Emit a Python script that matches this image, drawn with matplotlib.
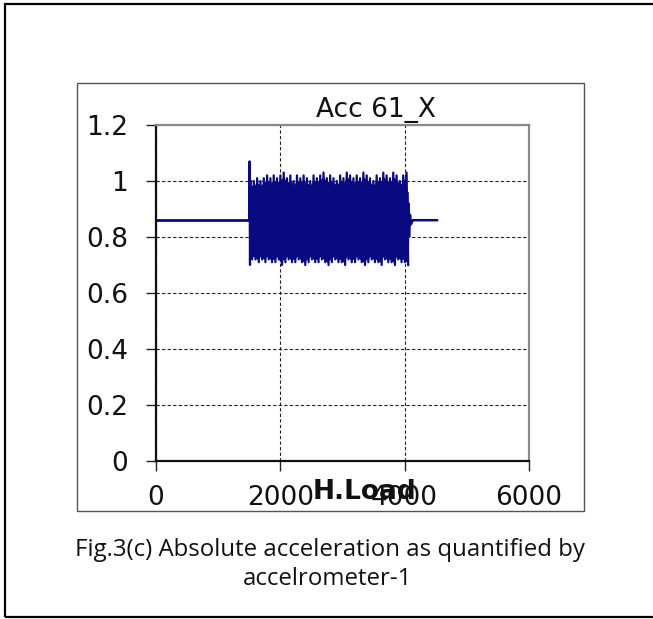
import numpy as np
import matplotlib
matplotlib.use("Agg")
import matplotlib.pyplot as plt
from matplotlib.patches import Rectangle

# ---- data ----
baseline_x = [0, 1500]
baseline_y = [0.86, 0.86]
spike_x = [1500, 1505, 1512, 1520]
spike_y = [0.86, 1.07, 0.70, 1.00]
upper = [1.00, 1.00, 1.01, 1.00, 1.01, 1.02, 1.01, 1.02, 1.01, 1.02, 1.03, 1.01,
         1.02, 1.00, 1.02, 1.01, 1.02, 1.01, 1.00, 1.02, 1.01, 1.02, 1.03, 1.01,
         1.02, 1.01, 1.00, 1.02, 1.01, 1.03, 1.02, 1.01, 1.02, 1.01, 1.03, 1.02,
         1.01, 1.00, 1.02, 1.01, 1.03, 1.02, 1.01, 1.03, 1.02, 1.00, 1.02, 1.03]
lower = [0.72, 0.72, 0.71, 0.72, 0.71, 0.72, 0.71, 0.71, 0.72, 0.70, 0.71, 0.72,
         0.71, 0.71, 0.72, 0.71, 0.70, 0.71, 0.72, 0.71, 0.71, 0.72, 0.71, 0.70,
         0.71, 0.72, 0.71, 0.71, 0.70, 0.72, 0.71, 0.71, 0.72, 0.71, 0.70, 0.71,
         0.72, 0.71, 0.71, 0.70, 0.72, 0.71, 0.71, 0.70, 0.72, 0.71, 0.71, 0.70]
osc_start, osc_end = 1520, 4030
decay_x = [4030, 4040, 4050, 4060, 4070, 4085, 4100, 4130, 4520]
decay_y = [0.72, 0.96, 0.76, 0.92, 0.80, 0.88, 0.845, 0.86, 0.86]

xticks = [0, 2000, 4000, 6000]
yticks = [0, 0.2, 0.4, 0.6, 0.8, 1.0, 1.2]
ytick_labels = ["0", "0.2", "0.4", "0.6", "0.8", "1", "1.2"]

W, H = 653, 619
fig = plt.figure(figsize=(W / 100, H / 100), dpi=100)

# outer frame and inner chart frame
fig.patches.append(Rectangle((5 / W, 1 - 617 / H), (660 - 5) / W, (617 - 4) / H,
                             transform=fig.transFigure, fill=False, ec="black", lw=1.6))
fig.patches.append(Rectangle((77 / W, 1 - 511 / H), (584 - 77) / W, (511 - 83) / H,
                             transform=fig.transFigure, fill=False, ec="#555555", lw=1.0))

ax = fig.add_axes([156 / W, 1 - 461 / H, (529 - 156) / W, (461 - 125) / H])

line_color = "#0a0a80"
n = len(upper)
env_x = np.linspace(osc_start, osc_end, n)
# zigzag between read peaks and troughs
zx = np.empty(2 * n)
zy = np.empty(2 * n)
zx[0::2] = env_x
zx[1::2] = env_x + (env_x[1] - env_x[0]) / 2
zy[0::2] = upper
zy[1::2] = lower
ax.fill_between(env_x, np.array(lower) + 0.01, np.array(upper) - 0.015,
                color=line_color, lw=0)
ax.plot(baseline_x, baseline_y, color=line_color, lw=2.0)
ax.plot(spike_x, spike_y, color=line_color, lw=1.6)
ax.plot(zx, zy, color=line_color, lw=1.6)
ax.plot(decay_x, decay_y, color=line_color, lw=1.8)

ax.set_xlim(0, 6000)
ax.set_ylim(0, 1.2)
ax.set_xticks(xticks)
ax.set_xticklabels([str(v) for v in xticks])
ax.set_yticks(yticks)
ax.set_yticklabels(ytick_labels)

ax.grid(True, color="#222222", lw=0.8, ls=(0, (3, 2)))
ax.set_axisbelow(True)

for s in ["left", "bottom"]:
    ax.spines[s].set_color("#111111")
    ax.spines[s].set_linewidth(1.6)
for s in ["top", "right"]:
    ax.spines[s].set_color("#8a8a8a")
    ax.spines[s].set_linewidth(1.6)

ax.tick_params(axis="both", direction="out", length=7, width=1.0, color="#222222",
               labelsize=19, labelcolor="#111111")
ax.tick_params(axis="y", pad=13)
ax.tick_params(axis="x", pad=10)

ax.text(0.59, 1.005, "Acc 61_X", transform=ax.transAxes, ha="center", va="bottom",
        fontsize=19, color="#111111")
ax.text(0.558, -0.092, "H.Load", transform=ax.transAxes, ha="center", va="center",
        fontsize=19, fontweight="bold", color="#111111")

cap_font = ["Open Sans", "DejaVu Sans"]
fig.text(330 / W, 1 - 556 / H, "Fig.3(c) Absolute acceleration as quantified by",
         ha="center", va="baseline", fontsize=17.3, family=cap_font, color="#111111")
fig.text(328 / W, 1 - 585 / H, "accelrometer-1",
         ha="center", va="baseline", fontsize=17.3, family=cap_font, color="#111111")

fig.savefig("out.png", dpi=100)
